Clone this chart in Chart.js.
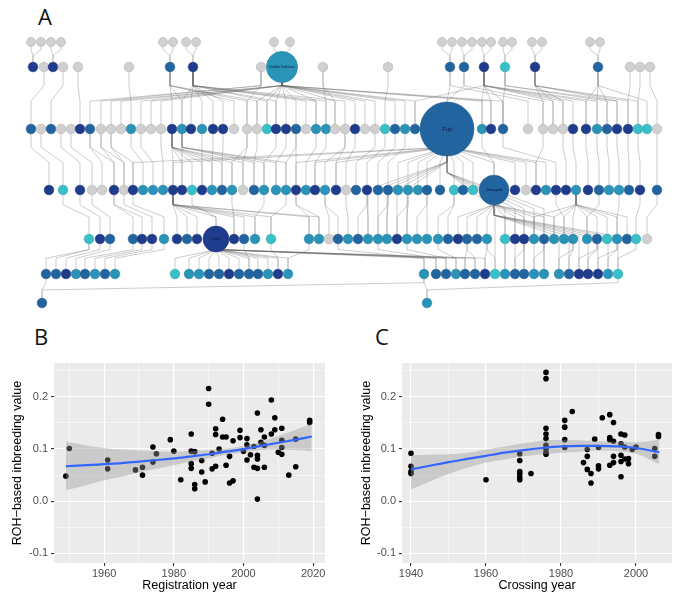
<!DOCTYPE html>
<html>
<head>
<meta charset="utf-8">
<script src="https://cdn.jsdelivr.net/npm/chart.js@4.4.1/dist/chart.umd.min.js"></script>
<style>
  body { margin: 0; background: #fff; width: 700px; height: 597px; position: relative; overflow: hidden; }
  .box { position: absolute; }
  .tag { position: absolute; font-family: "Open Sans", sans-serif; font-size: 22px; line-height: 1; color: #111; }
</style>
</head>
<body>
<div class="tag" style="left:38px;top:5px">A</div>
<div class="tag" style="left:34px;top:325px">B</div>
<div class="tag" style="left:375px;top:325px">C</div>
<div class="box" style="left:0;top:0;width:700px;height:312px"><canvas id="pedigree"></canvas></div>
<div class="box" style="left:0;top:320px;width:340px;height:277px"><canvas id="regChart"></canvas></div>
<div class="box" style="left:340px;top:320px;width:360px;height:277px"><canvas id="crossChart"></canvas></div>

<script>
// ---- panel A: pedigree, one row per generation ----
// node kinds: g = no data, n / b / t / c = inbreeding class (dark -> light)
const gen1X = [31,41,51,61,163,173,186,196,274,290,442,452,462,472,482,491,503,512,532,542,590,600];
const gen1Kind = "gggggggggggggggggggggg";
const gen2X = [33,44,53,63,78,129,170,193,261,282,323,388,450,464,484,505,535,598,630,640,650];
const gen2Kind = "ngngggbngtggbbncnbggg";
const gen3X = [31,41,51,61,71,80,90,101,111,121,131,141,151,161,172,182,191,202,213,223,234,247,257,267,276,286,296,306,316,326,335,345,355,365,375,385,395,405,415,447,482,491,503,528,543,553,563,573,586,597,607,617,628,638,647,657];
const gen3Kind = "bgbggnbggg" + "tgggntntnn" + "gggcnnbgtt" + "ggnggcbtbb" + "tnbggggnnt" + "bnnccg";
const gen4X = [49,63,80,92,102,114,124,133,143,153,163,173,182,192,202,212,222,232,243,254,264,276,286,296,306,315,325,336,346,356,367,378,388,398,408,418,427,440,454,463,473,494,515,526,536,546,556,566,576,588,599,609,619,629,640,657];
const gen4Kind = "ncnggngntt" + "tnncntbtgb" + "tttntntngb" + "nbbtttbbcb" + "cbngntnntn" + "bttbnb";
const gen5X = [89,100,110,133,142,152,164,177,187,197,216,234,244,255,271,309,319,329,338,348,358,368,378,387,397,407,417,427,438,448,458,467,477,487,505,515,524,534,544,554,564,573,587,597,607,617,627,636,647];
const gen5Kind = "cnbbnntnbn" + "nnbtcttgbt" + "btttnttttb" + "nbbtcnntbt" + "tttbctbcg";
const gen6X = [46,56,66,76,85,95,105,115,175,189,199,209,219,229,239,249,258,268,278,288,424,436,446,456,465,475,485,495,505,515,524,534,544,559,569,579,588,598,608,618];
const gen6Kind = "bbntbtbtct" + "tbbnbbbtnt" + "tbbtbbnctb" + "btttbnnntc";
const gen7X = [42,427];
const gen7Kind = "bt";

// hubs: cultivars with many descendants
const hubName = ["Golden Delicious", "Fuji", "Jonagold", "Gala"];
const hubGen = [2, 3, 4, 5];
const hubX = [282, 447, 494, 216];
const hubWeight = [11, 33, 10, 7.6];

// [parent generation, parent x, child generation, children x]
const links = [
  [1,31,2,[33]],[1,41,2,[33]],[1,51,2,[53]],[1,61,2,[53]],
  [1,163,2,[170]],[1,173,2,[170]],[1,186,2,[193]],[1,196,2,[193]],
  [1,274,2,[282]],[1,290,2,[282]],
  [1,442,2,[450]],[1,452,2,[450]],[1,462,2,[464]],[1,472,2,[464]],
  [1,482,2,[484]],[1,491,2,[484]],[1,503,2,[505]],[1,512,2,[505]],
  [1,532,2,[535]],[1,542,2,[535]],[1,590,2,[598]],[1,600,2,[598]],
  [2,44,3,[31]],[2,63,3,[51]],[2,78,3,[80]],[2,129,3,[131]],
  [2,170,3,[172,182,234,247,257]],
  [2,193,3,[182,191,202,213,223,267,276,306,316,326,345]],
  [2,261,3,[90,101,247]],
  [2,282,3,[111,121,141,151,161,257,267,276,286,296,316,335,355,365,375,395,405,415,482,491,503]],
  [2,323,3,[326,335]],[2,388,3,[385]],
  [2,450,3,[447,528]],[2,464,3,[447,543]],
  [2,484,3,[415,482,491,503,553,563,573,586,597]],
  [2,505,3,[503,607,617]],
  [2,535,3,[543,553,563,617,628,638]],
  [2,598,3,[586,597,607,647]],
  [2,630,3,[628]],[2,640,3,[638]],[2,650,3,[657]],
  [3,31,4,[49]],[3,41,4,[63]],[3,61,4,[80]],[3,71,4,[92]],
  [3,90,4,[102,114]],[3,101,4,[114,124]],[3,111,4,[124,133]],
  [3,131,4,[143]],[3,141,4,[153]],[3,161,4,[163]],
  [3,172,4,[173,182,192,202,212,222,232,243]],
  [3,182,4,[182,254,264,276,286]],
  [3,202,4,[202]],[3,213,4,[212]],[3,223,4,[222]],
  [3,247,4,[232,243]],[3,257,4,[254]],[3,276,4,[264]],[3,286,4,[276]],
  [3,296,4,[286,296]],[3,316,4,[306]],[3,326,4,[315]],[3,345,4,[325,336]],
  [3,355,4,[346]],[3,375,4,[356]],[3,385,4,[367]],[3,395,4,[378]],[3,405,4,[388]],
  [3,447,4,[133,173,296,315,336,398,408,418,427,440,454,463,473,494,515,526,536,546]],
  [3,482,4,[494]],[3,503,4,[556]],[3,543,4,[536]],[3,563,4,[566]],
  [3,573,4,[576]],[3,586,4,[588]],[3,597,4,[599]],[3,607,4,[609]],
  [3,617,4,[619]],[3,628,4,[629]],[3,638,4,[640]],[3,657,4,[657]],
  [4,63,5,[89]],[4,80,5,[100]],[4,92,5,[110]],
  [4,114,5,[133,142]],[4,124,5,[152]],[4,133,5,[164]],
  [4,173,5,[177,187,197,216,234,244,255,271,309,319]],
  [4,192,5,[216]],[4,232,5,[234]],[4,264,5,[255]],[4,286,5,[271]],
  [4,296,5,[309,319]],[4,325,5,[329,338]],[4,346,5,[348]],[4,367,5,[358,368]],
  [4,388,5,[378,387]],[4,408,5,[397,407]],[4,427,5,[417,427]],[4,454,5,[438,448]],
  [4,494,5,[458,467,477,487,505,515,524,534,544,554]],
  [4,556,5,[564]],[4,576,5,[534,554,564,573,587,597,607,617,627]],
  [4,599,5,[587]],[4,619,5,[617]],[4,640,5,[636]],[4,657,5,[647]],
  [5,89,6,[46,56]],[5,100,6,[66]],[5,110,6,[76]],[5,133,6,[85]],
  [5,142,6,[95]],[5,152,6,[105]],[5,164,6,[115]],
  [5,216,6,[175,189,199,209,219,229,239,249,258,268,278,288,424,436,446,456,465,475,485]],
  [5,244,6,[249]],[5,271,6,[278]],[5,309,6,[288]],
  [5,338,6,[424]],[5,378,6,[436]],[5,407,6,[446]],[5,438,6,[456]],
  [5,467,6,[465,475]],[5,487,6,[485,495]],[5,505,6,[505]],[5,524,6,[515,524]],
  [5,544,6,[534,544]],[5,573,6,[559,569]],[5,597,6,[579,588]],[5,617,6,[598,608]],[5,636,6,[618]],
  [3,447,5,[368,378,387,397,407]],
  [3,447,6,[495,505,515,524,534,544]],
  [4,494,6,[559,569,579,588,598,608,618]],
  [6,46,7,[42]],[6,424,7,[42]],[6,424,7,[427]],[6,618,7,[427]]
];

// ---- panel B: registration year ----
const regYear = [1949,1950,1961,1961,1969,1971,1971,1974,1974,1975,1979,1980,1982,1985,1985,1985,1985,1986,1986,1986,1988,1988,1989,1990,1990,1991,1991,1992,1992,1992,1993,1994,1994,1995,1995,1996,1996,1997,1997,1999,1999,2000,2001,2001,2001,2002,2003,2003,2004,2004,2004,2004,2004,2005,2005,2006,2006,2006,2008,2008,2009,2009,2010,2011,2011,2011,2011,2013,2015,2015,2019,2019];
const regRoh = [0.048,0.101,0.079,0.062,0.060,0.065,0.050,0.104,0.075,0.091,0.118,0.096,0.041,0.129,0.096,0.072,0.063,0.095,0.032,0.024,0.078,0.056,0.037,0.216,0.186,0.092,0.062,0.067,0.139,0.128,0.100,0.157,0.123,0.123,0.069,0.086,0.035,0.039,0.116,0.136,0.122,0.096,0.120,0.108,0.079,0.089,0.105,0.065,0.169,0.088,0.081,0.063,0.004,0.137,0.113,0.123,0.107,0.065,0.194,0.129,0.160,0.137,0.094,0.140,0.117,0.103,0.090,0.050,0.066,0.119,0.155,0.151];
const regFitYear = [1949,1955,1960,1965,1970,1975,1980,1985,1990,1995,2000,2005,2010,2015,2019.6];
const regFit   = [0.067,0.069,0.071,0.073,0.076,0.079,0.082,0.086,0.090,0.095,0.100,0.106,0.112,0.118,0.124];
const regUpper = [0.114,0.107,0.102,0.099,0.097,0.096,0.095,0.096,0.098,0.101,0.106,0.114,0.125,0.137,0.149];
const regLower = [0.021,0.031,0.040,0.047,0.055,0.062,0.069,0.076,0.082,0.089,0.094,0.098,0.099,0.098,0.096];
const regTicks = [1960,1980,2000,2020];
const regMinor = [1950,1970,1990,2010];

// ---- panel C: crossing year ----
const crossYear = [1940,1940,1940,1940,1960,1969,1969,1969,1969,1969,1969,1972,1976,1976,1976,1976,1976,1976,1976,1976,1976,1981,1981,1981,1981,1983,1986,1987,1987,1987,1988,1988,1989,1990,1990,1990,1991,1993,1993,1993,1993,1994,1994,1994,1994,1996,1996,1996,1996,1996,1997,1997,1997,1998,1998,1999,2000,2005,2005,2006,2006];
const crossRoh = [0.092,0.067,0.057,0.053,0.041,0.091,0.078,0.057,0.052,0.046,0.041,0.053,0.247,0.235,0.140,0.129,0.120,0.107,0.100,0.094,0.090,0.155,0.142,0.118,0.103,0.172,0.074,0.099,0.086,0.061,0.053,0.035,0.119,0.103,0.068,0.062,0.160,0.166,0.122,0.118,0.069,0.151,0.115,0.086,0.074,0.129,0.110,0.088,0.076,0.047,0.127,0.104,0.081,0.082,0.072,0.099,0.104,0.101,0.086,0.128,0.124];
const crossFitYear = [1940,1945,1950,1955,1960,1965,1970,1975,1980,1985,1990,1995,2000,2006.2];
const crossFit   = [0.061,0.068,0.075,0.081,0.087,0.093,0.098,0.102,0.105,0.106,0.106,0.105,0.102,0.094];
const crossUpper = [0.088,0.089,0.090,0.093,0.099,0.105,0.111,0.116,0.118,0.117,0.115,0.114,0.113,0.118];
const crossLower = [0.023,0.038,0.052,0.064,0.074,0.080,0.086,0.090,0.093,0.095,0.097,0.096,0.091,0.071];
const crossTicks = [1940,1960,1980,2000];
const crossMinor = [1950,1970,1990];

const rohTicks = [-0.1, 0.0, 0.1, 0.2];
const rohTickLabels = ["-0.1", "0.0", "0.1", "0.2"];
const rohMinor = [-0.05, 0.05, 0.15, 0.25];


// ================= panel A =================
const rowY = [42, 67, 129, 190, 239, 274, 303];
const fillOf = { g: "#d0d0d0", n: "#1f3b8b", b: "#21649f", t: "#2a93b8", c: "#39bfc7" };
const lineOf = { g: "#b4b4b4", n: "#1a3278", b: "#1b578b", t: "#237f9f", c: "#2ea7ae" };

const gens = [[gen1X, gen1Kind], [gen2X, gen2Kind], [gen3X, gen3Kind], [gen4X, gen4Kind],
              [gen5X, gen5Kind], [gen6X, gen6Kind], [gen7X, gen7Kind]];
const nodeAt = {};
const nodePts = [], nodeR = [], nodeFill = [], nodeLine = [];
gens.forEach(([xs, kinds], gi) => {
  xs.forEach((x, i) => {
    const k = kinds[i];
    const h = hubX.findIndex((hx, j) => hx === x && hubGen[j] === gi + 1);
    const r = h >= 0 ? 4.7 * Math.sqrt(hubWeight[h]) : (gi === 0 ? 4.5 : 4.8);
    nodeAt[(gi + 1) + ":" + x] = { x, y: rowY[gi] };
    nodePts.push({ x, y: rowY[gi] });
    nodeR.push(r);
    nodeFill.push(fillOf[k]);
    nodeLine.push(lineOf[k]);
  });
});

const edgePts = [];
links.forEach(([pg, px, cg, kids]) => {
  const p = nodeAt[pg + ":" + px];
  kids.forEach(cx => {
    const c = nodeAt[cg + ":" + cx];
    if (!p || !c) return;
    const dy = c.y - p.y;
    edgePts.push({ x: c.x, y: c.y }, { x: c.x, y: c.y - 0.45 * dy },
                 { x: p.x, y: p.y + 0.3 * dy }, { x: p.x, y: p.y }, { x: p.x, y: null });
  });
});

const hubLabels = {
  id: "hubLabels",
  afterDatasetsDraw(chart) {
    const { ctx, scales } = chart;
    ctx.save();
    ctx.fillStyle = "#0c1a3c";
    ctx.textAlign = "center";
    ctx.textBaseline = "middle";
    hubName.forEach((name, i) => {
      const size = name.length > 8 ? 3.4 : (hubWeight[i] > 20 ? 6 : 4);
      ctx.font = size + "px 'Liberation Sans'";
      ctx.fillText(name, scales.x.getPixelForValue(hubX[i]), scales.y.getPixelForValue(rowY[hubGen[i] - 1]));
    });
    ctx.restore();
  }
};

new Chart(document.getElementById("pedigree"), {
  type: "scatter",
  data: {
    datasets: [
      {
        data: nodePts,
        pointRadius: nodeR,
        pointBackgroundColor: nodeFill,
        pointBorderColor: nodeLine,
        pointBorderWidth: 0.6,
        clip: false,
        order: 0
      },
      {
        data: edgePts,
        showLine: true,
        spanGaps: false,
        pointRadius: 0,
        borderColor: "rgba(95,95,95,0.42)",
        borderWidth: 0.75,
        tension: 0,
        clip: false,
        order: 1
      }
    ]
  },
  options: {
    responsive: true,
    maintainAspectRatio: false,
    animation: false,
    events: [],
    layout: { padding: 0, autoPadding: false },
    plugins: { legend: { display: false }, tooltip: { enabled: false } },
    scales: {
      x: { type: "linear", min: 0, max: 700, display: false },
      y: { type: "linear", min: 0, max: 312, reverse: true, display: false }
    }
  },
  plugins: [hubLabels]
});


// ================= panels B and C =================
const panelBg = {
  id: "panelBg",
  beforeDraw(chart) {
    const { ctx, chartArea: a } = chart;
    ctx.save();
    ctx.fillStyle = "#ebebeb";
    ctx.fillRect(a.left, a.top, a.right - a.left, a.bottom - a.top);
    ctx.restore();
  }
};

const near = (list, v) => list.findIndex(t => Math.abs(t - v) < 1e-6);

function scatterPanel(id, o) {
  const pts = o.xs.map((x, i) => ({ x, y: o.ys[i] }));
  const curve = arr => o.fitX.map((x, i) => ({ x, y: arr[i] }));
  const axisBase = (major, minor, labels) => ({
    type: "linear",
    border: { display: false },
    afterBuildTicks: s => { s.ticks = major.concat(minor).sort((a, b) => a - b).map(v => ({ value: v })); },
    ticks: {
      autoSkip: false,
      color: "#4d4d4d",
      font: { family: "'Liberation Sans', Arial, sans-serif", size: 11 },
      callback: v => { const k = near(major, v); return k >= 0 ? labels[k] : ""; }
    },
    grid: {
      color: "#ffffff",
      lineWidth: c => near(major, c.tick.value) >= 0 ? 1.1 : 0.5,
      tickColor: c => near(major, c.tick.value) >= 0 ? "#333333" : "rgba(0,0,0,0)",
      tickLength: 3
    },
    title: { display: true, color: "#000", font: { family: "'Liberation Sans', Arial, sans-serif", size: 12.5 } }
  });

  const xAxis = axisBase(o.xTicks, o.xMinor, o.xTicks.map(String));
  xAxis.min = o.xMin; xAxis.max = o.xMax;
  xAxis.ticks.padding = 1;
  xAxis.title.text = o.xTitle;
  xAxis.title.padding = { top: 0, bottom: 3.5 };
  xAxis.afterFit = s => { s.height = 34; };

  const yAxis = axisBase(rohTicks, rohMinor, rohTickLabels);
  yAxis.min = -0.1185; yAxis.max = 0.265;
  yAxis.ticks.padding = 3;
  yAxis.title.text = "ROH\u2212based inbreeding value";
  yAxis.title.padding = { top: o.yTitlePad, bottom: 0 };
  yAxis.afterFit = s => { s.width = o.yWidth; };

  new Chart(document.getElementById(id), {
    type: "scatter",
    data: {
      datasets: [
        { data: curve(o.fit), showLine: true, pointRadius: 0, borderColor: "#3366ff", borderWidth: 2.2,
          cubicInterpolationMode: "monotone", order: 0 },
        { data: curve(o.upper), showLine: true, pointRadius: 0, borderWidth: 0, borderColor: "rgba(0,0,0,0)",
          backgroundColor: "rgba(153,153,153,0.4)", fill: "+1", cubicInterpolationMode: "monotone", order: 1 },
        { data: curve(o.lower), showLine: true, pointRadius: 0, borderWidth: 0, borderColor: "rgba(0,0,0,0)",
          cubicInterpolationMode: "monotone", order: 2 },
        { data: pts, pointRadius: 2.8, pointBackgroundColor: "#000", pointBorderWidth: 0, order: 3 }
      ]
    },
    options: {
      responsive: true,
      maintainAspectRatio: false,
      animation: false,
      events: [],
      layout: { padding: { left: 0, top: 43, right: o.padRight, bottom: 0 }, autoPadding: false },
      plugins: { legend: { display: false }, tooltip: { enabled: false } },
      scales: { x: xAxis, y: yAxis }
    },
    plugins: [panelBg]
  });
}

scatterPanel("regChart", {
  xs: regYear, ys: regRoh, fitX: regFitYear, fit: regFit, upper: regUpper, lower: regLower,
  xTicks: regTicks, xMinor: regMinor, xMin: 1945.6, xMax: 2023.4, xTitle: "Registration year",
  yWidth: 54, yTitlePad: 10.5, padRight: 15
});

scatterPanel("crossChart", {
  xs: crossYear, ys: crossRoh, fitX: crossFitYear, fit: crossFit, upper: crossUpper, lower: crossLower,
  xTicks: crossTicks, xMinor: crossMinor, xMin: 1937.6, xMax: 2009.6, xTitle: "Crossing year",
  yWidth: 62, yTitlePad: 19.5, padRight: 28
});
</script>
</body>
</html>
